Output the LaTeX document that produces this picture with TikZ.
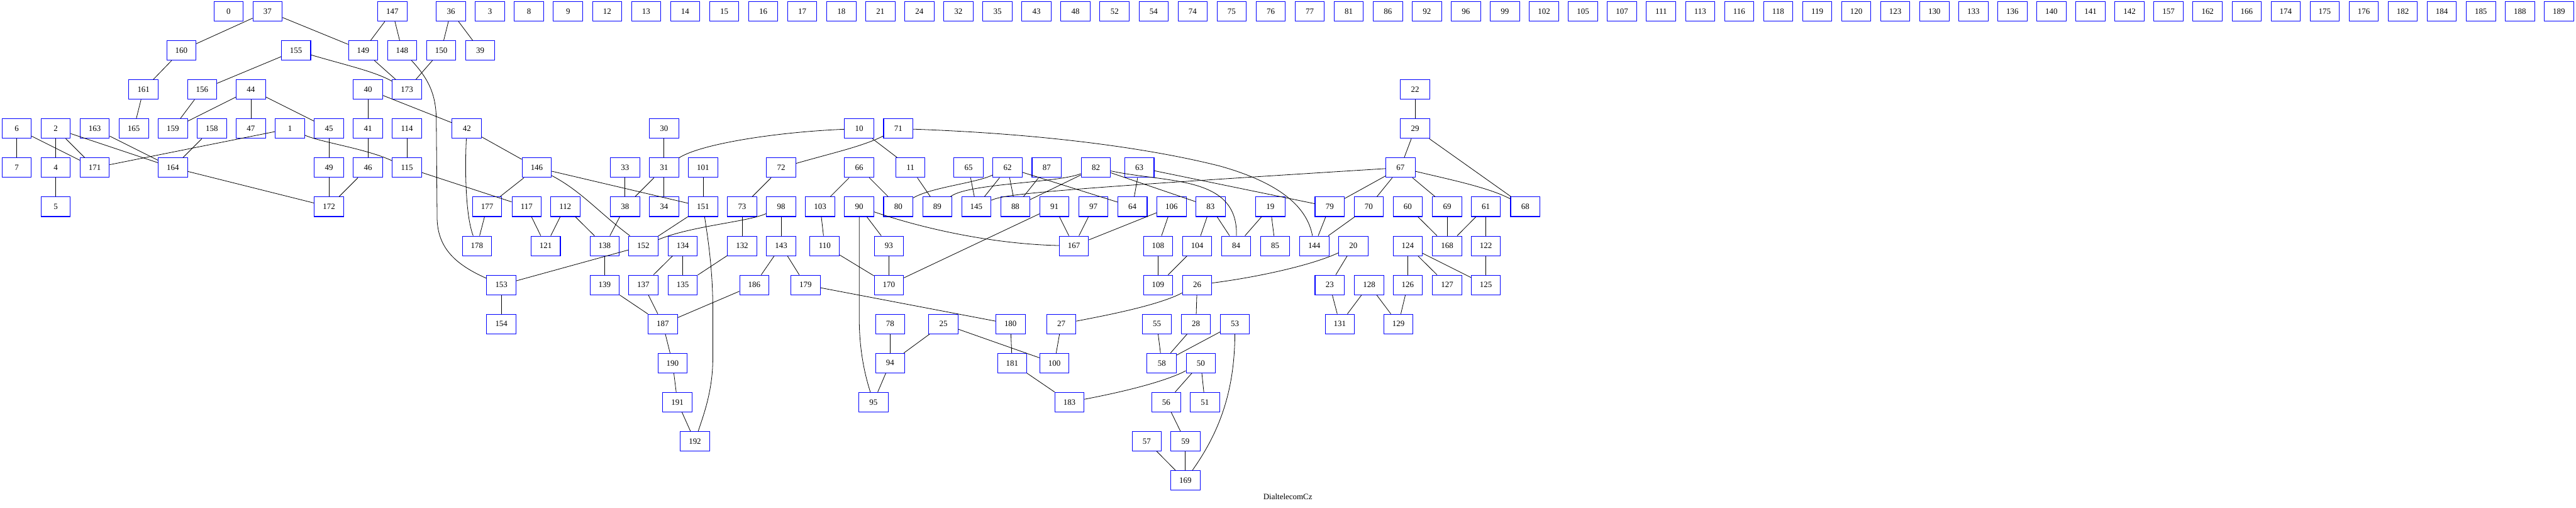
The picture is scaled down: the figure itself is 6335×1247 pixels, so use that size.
\documentclass[tikz,border=0pt]{standalone}
\usepackage{fontspec}
\setmainfont{Liberation Serif}
\begin{document}
\begin{tikzpicture}[x=0.01cm,y=-0.01cm,
  nd/.style={draw=blue, line width=0.45pt, minimum width=0.72cm, minimum height=0.48cm, inner sep=0pt, font=\fontsize{5.7}{6}\selectfont},
  ed/.style={line width=0.35pt}]
\useasboundingbox[fill=white] (0,0) rectangle (6335,1247);
% row 0
\node[nd] (n0) at (562,28) {0};
\node[nd] (n37) at (658,28) {37};
\node[nd] (n147) at (965,28) {147};
\node[nd] (n36) at (1109,28) {36};
\foreach \v [count=\i from 0] in {3,8,9,12,13,14,15,16,17,18,21,24,32,35,43,48,52,54,74,75,76,77,81,86,92,96,99,102,105,107,111,113,116,118,119,120,123,130,133,136,140,141,142,157,162,166,174,175,176,182,184,185,188,189}
  \node[nd] (n\v) at ({1205+96*\i},28) {\v};
% row 1
\foreach \v/\x in {160/446,155/728,149/893,148/989,150/1085,39/1181}
  \node[nd] (n\v) at (\x,124) {\v};
% row 2
\foreach \v/\x in {161/353,156/497,44/617,40/905,173/1001,22/3480}
  \node[nd] (n\v) at (\x,220) {\v};
% row 3
\foreach \v/\x in {6/41,2/137,163/233,165/329,159/425,158/521,47/617,1/713,45/809,41/905,114/1001,42/1148,30/1633,10/2113,71/2209,29/3480}
  \node[nd] (n\v) at (\x,316) {\v};
% row 4
\foreach \v/\x in {7/41,4/137,171/233,164/425,49/809,46/905,115/1001,146/1320,33/1537,31/1633,101/1729,72/1921,66/2113,11/2239,65/2382,62/2478,87/2574,82/2695,63/2802,67/3444}
  \node[nd] (n\v) at (\x,412) {\v};
% row 5
\foreach \v/\x in {5/137,172/809,177/1198,117/1295,112/1390,38/1537,34/1633,151/1729,73/1825,98/1921,103/2017,90/2113,80/2209,89/2305,145/2401,88/2497,91/2593,97/2689,64/2785,106/2881,83/2977,19/3124,79/3270,70/3366,60/3462,69/3559,61/3654,68/3751}
  \node[nd] (n\v) at (\x,508) {\v};
% row 6
\foreach \v/\x in {178/1173,121/1342,138/1487,152/1582,134/1679,132/1825,143/1921,110/2028,93/2186,167/2641,108/2848,104/2944,84/3040,85/3136,144/3232,20/3328,124/3462,168/3559,122/3654}
  \node[nd] (n\v) at (\x,604) {\v};
% row 7
\foreach \v/\x in {153/1233,139/1487,137/1582,135/1679,186/1855,179/1981,170/2186,109/2848,26/2944,23/3270,128/3367,126/3462,127/3559,125/3654}
  \node[nd] (n\v) at (\x,700) {\v};
% row 8
\foreach \v/\x in {154/1233,187/1630,78/2189,25/2320,180/2485,27/2610,55/2845,28/2941,53/3037,131/3295,129/3439}
  \node[nd] (n\v) at (\x,796) {\v};
% row 9
\foreach \v/\x in {190/1654,94/2189,181/2489,100/2593,58/2857,50/2953}
  \node[nd] (n\v) at (\x,892) {\v};
% row 10
\foreach \v/\x in {191/1666,95/2148,183/2630,56/2868,51/2963}
  \node[nd] (n\v) at (\x,988) {\v};
% row 11
\foreach \v/\x in {192/1709,57/2820,59/2915}
  \node[nd] (n\v) at (\x,1084) {\v};
% row 12
\node[nd] (n169) at (2915,1180) {169};
% label
\node[font=\fontsize{5.7}{6}\selectfont, inner sep=0pt] (lbl) at (3167,1221) {DialtelecomCz};
% straight edges
\foreach \a/\b in {37/160,37/149,147/149,147/148,160/161,155/156,149/173,161/165,156/159,44/159,44/47,44/45,40/41,40/42,6/7,6/171,2/4,2/171,2/164,163/164,158/164,1/171,45/49,41/46,49/172,46/172,164/172,114/115,4/5,36/150,36/39,150/173,42/146,146/177,146/151,115/117,30/31,31/38,31/34,33/38,101/151,72/73,177/178,117/121,112/121,112/138,38/138,151/152,73/132,98/143,152/153,138/139,134/137,134/135,132/135,143/186,143/179,153/154,139/187,137/187,186/187,187/190,190/191,191/192,10/11,66/103,66/80,11/89,65/145,62/145,62/88,62/64,87/88,82/88,82/83,63/64,63/79,103/110,90/93,91/170,91/167,97/167,106/167,106/108,83/104,83/84,104/109,108/109,110/170,93/170,179/180,26/28,78/94,25/94,25/100,180/181,27/100,55/58,28/58,53/58,94/95,181/183,50/56,50/51,56/59,57/169,59/169,22/29,29/67,29/68,67/79,67/70,67/69,19/84,19/85,79/144,70/144,60/168,69/168,61/168,61/122,20/23,124/126,124/127,124/125,122/125,23/131,128/131,128/129,126/129}
  \draw[ed] (n\a) -- (n\b);
% curved edges
\draw[ed] (n148) .. controls (1060,200) and (1073,240) .. (1073,300) -- (1075,540) .. controls (1078,610) and (1120,650) .. (n153);
\draw[ed] (n151) .. controls (1740,580) and (1753,660) .. (1753,760) -- (1753,880) .. controls (1753,960) and (1730,1020) .. (n192);
\draw[ed] (n90) -- (2113,780) .. controls (2113,870) and (2130,930) .. (n95);
\draw[ed] (n53) .. controls (3036,960) and (3000,1060) .. (n169);
\draw[ed] (n71) .. controls (2600,330) and (2850,370) .. (3000,408) .. controls (3150,450) and (3215,510) .. (n144);
\draw[ed] (n10) .. controls (1900,325) and (1720,355) .. (n31);
\draw[ed] (n98) .. controls (1840,545) and (1700,555) .. (n152);
\draw[ed] (n146) .. controls (1430,470) and (1470,520) .. (n152);
\draw[ed] (n145) .. controls (2470,478) and (2540,468) .. (n67);
\draw[ed] (n82) .. controls (2870,450) and (3045,430) .. (n84);
\draw[ed] (n90) .. controls (2280,565) and (2450,600) .. (n167);
\draw[ed] (n62) .. controls (2400,450) and (2290,460) .. (n80);
\draw[ed] (n82) .. controls (2600,450) and (2380,450) .. (n89);
\draw[ed] (n26) .. controls (2850,750) and (2720,775) .. (n27);
\draw[ed] (n20) .. controls (3230,650) and (3100,680) .. (n26);
\draw[ed] (n50) .. controls (2860,940) and (2750,965) .. (n183);
\draw[ed] (n1) .. controls (790,350) and (900,365) .. (n115);
\draw[ed] (n155) .. controls (850,160) and (920,175) .. (n173);
\draw[ed] (n42) .. controls (1143,420) and (1145,530) .. (n178);
\draw[ed] (n71) .. controls (2120,360) and (2050,375) .. (n72);
\draw[ed] (n67) .. controls (3560,440) and (3660,460) .. (n68);
\end{tikzpicture}
\end{document}
